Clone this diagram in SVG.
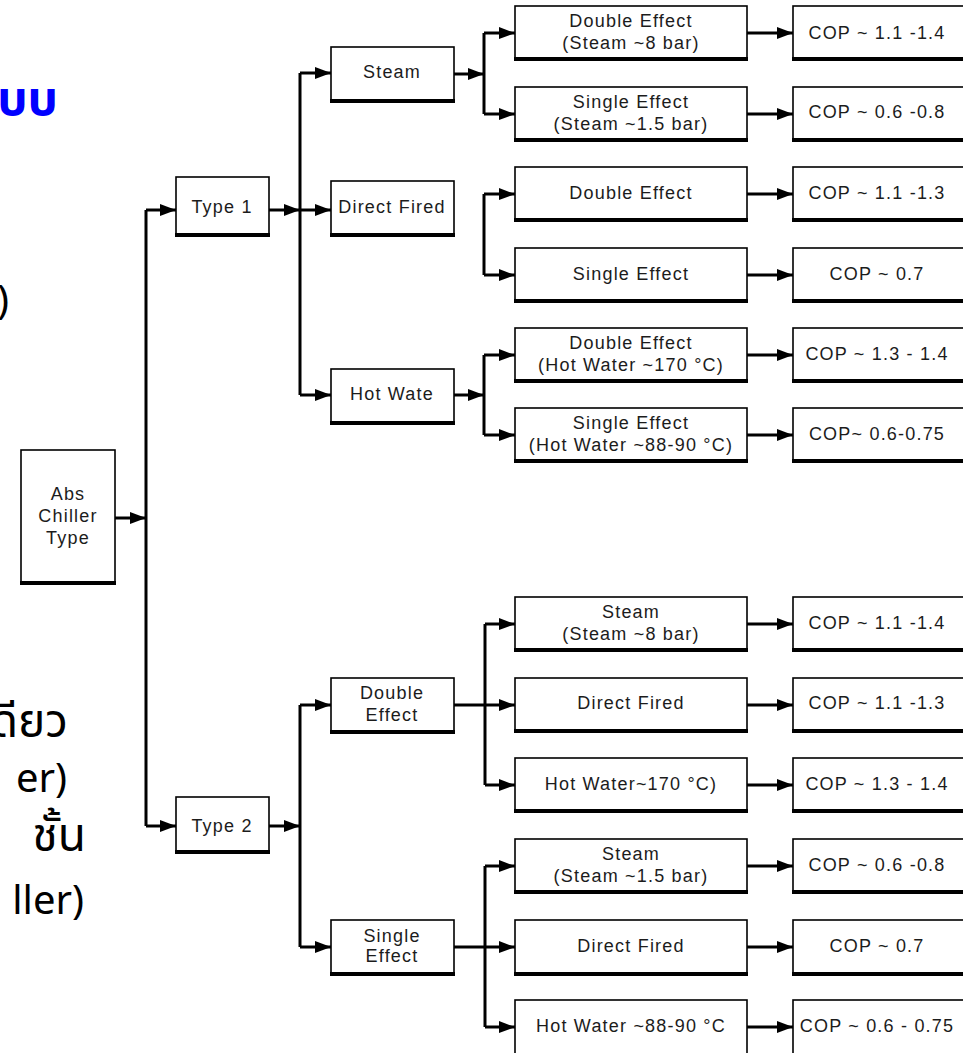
<svg xmlns="http://www.w3.org/2000/svg" width="963" height="1053" viewBox="0 0 963 1053">
  <defs>
    <marker id="arrow" markerUnits="userSpaceOnUse" markerWidth="16" markerHeight="13" refX="16" refY="6.5" orient="auto">
      <path d="M0,0.5 L16,6.5 L0,12.5 z" fill="#000"/>
    </marker>
    <style>
      .box { fill: #fff; stroke: #000; stroke-width: 1.6; }
      .base { stroke: #000; stroke-width: 4; }
      .lbl { font-family: "Liberation Sans", Arial, sans-serif; font-size: 18px; letter-spacing: 1.2px; fill: #1c1c1c; text-anchor: middle; }
      .wire { fill: none; stroke: #000; stroke-width: 3; }
      .arr { fill: none; stroke: #000; stroke-width: 3; marker-end: url(#arrow); }
      .side { font-family: "Noto Sans Thai", "Noto Sans", "DejaVu Sans", sans-serif; font-size: 40px; fill: #000; text-anchor: end; }
      .thai { font-size: 46px; }
      .head { font-family: "Noto Sans Thai", "Noto Sans", "DejaVu Sans", sans-serif; font-size: 48px; font-weight: bold; fill: #0000ff; text-anchor: end; }
    </style>
  </defs>

  <rect width="963" height="1053" fill="#fff"/>

  <!-- text running off the left edge -->
  <g id="side-text">
    <text class="head" x="58" y="115">บบ</text>
    <text class="side" x="9" y="314" font-size="48">)</text>
    <text class="side thai" x="68" y="737">ดียว</text>
    <text class="side" x="67" y="792">er)</text>
    <text class="side thai" x="86" y="851">ชั้น</text>
    <text class="side" x="84" y="914">ller)</text>
  </g>

  <!-- connectors -->
  <g id="connectors">
    <path class="arr" d="M115,518 H146"/>
    <path class="wire" d="M146,210 V826"/>
    <path class="arr" d="M146,210 H176"/>
    <path class="arr" d="M146,826 H176"/>

    <path class="arr" d="M269,210 H300"/>
    <path class="wire" d="M300,73 V395"/>
    <path class="arr" d="M300,73 H331"/>
    <path class="arr" d="M300,210 H331"/>
    <path class="arr" d="M300,395 H331"/>

    <path class="arr" d="M454,74 H484"/>
    <path class="wire" d="M484,33 V114"/>
    <path class="arr" d="M484,33 H515"/>
    <path class="arr" d="M484,114 H515"/>

    <path class="wire" d="M484,194 V275"/>
    <path class="arr" d="M484,194 H515"/>
    <path class="arr" d="M484,275 H515"/>

    <path class="arr" d="M454,395 H484"/>
    <path class="wire" d="M484,355 V435"/>
    <path class="arr" d="M484,355 H515"/>
    <path class="arr" d="M484,435 H515"/>

    <path class="arr" d="M269,826 H300"/>
    <path class="wire" d="M300,705 V947"/>
    <path class="arr" d="M300,705 H331"/>
    <path class="arr" d="M300,947 H331"/>

    <path class="wire" d="M454,705 H485"/>
    <path class="wire" d="M485,624 V785"/>
    <path class="arr" d="M485,624 H515"/>
    <path class="arr" d="M485,705 H515"/>
    <path class="arr" d="M485,785 H515"/>

    <path class="arr" d="M454,947 H515"/>
    <path class="wire" d="M485,866 V1027"/>
    <path class="arr" d="M485,866 H515"/>
    <path class="arr" d="M485,1027 H515"/>

    <path class="arr" d="M747,33 H793"/>
    <path class="arr" d="M747,114 H793"/>
    <path class="arr" d="M747,194 H793"/>
    <path class="arr" d="M747,275 H793"/>
    <path class="arr" d="M747,355 H793"/>
    <path class="arr" d="M747,435 H793"/>
    <path class="arr" d="M747,624 H793"/>
    <path class="arr" d="M747,705 H793"/>
    <path class="arr" d="M747,785 H793"/>
    <path class="arr" d="M747,866 H793"/>
    <path class="arr" d="M747,947 H793"/>
    <path class="arr" d="M747,1027 H793"/>
  </g>

  <!-- root -->
  <g id="abs-chiller">
    <rect class="box" x="21" y="450" width="94" height="133"/>
    <line class="base" x1="20" y1="583" x2="116" y2="583"/>
    <text class="lbl" x="68" y="499.5">Abs</text>
    <text class="lbl" x="68" y="521.5">Chiller</text>
    <text class="lbl" x="68" y="543.5">Type</text>
  </g>

  <!-- types -->
  <g id="type1">
    <rect class="box" x="176" y="177" width="93" height="58"/>
    <line class="base" x1="175" y1="235" x2="270" y2="235"/>
    <text class="lbl" x="222" y="212.5">Type 1</text>
  </g>
  <g id="type2">
    <rect class="box" x="176" y="797" width="93" height="55"/>
    <line class="base" x1="175" y1="852" x2="270" y2="852"/>
    <text class="lbl" x="222" y="831.5">Type 2</text>
  </g>

  <!-- second level -->
  <g id="t1-steam">
    <rect class="box" x="331" y="47" width="123" height="54"/>
    <line class="base" x1="330" y1="101" x2="455" y2="101"/>
    <text class="lbl" x="392" y="78">Steam</text>
  </g>
  <g id="t1-direct-fired">
    <rect class="box" x="331" y="181" width="123" height="54"/>
    <line class="base" x1="330" y1="235" x2="455" y2="235"/>
    <text class="lbl" x="392" y="213">Direct Fired</text>
  </g>
  <g id="t1-hot-water">
    <rect class="box" x="331" y="369" width="123" height="54"/>
    <line class="base" x1="330" y1="423" x2="455" y2="423"/>
    <text class="lbl" x="392" y="400">Hot Wate</text>
  </g>
  <g id="t2-double">
    <rect class="box" x="331" y="678" width="123" height="54"/>
    <line class="base" x1="330" y1="732" x2="455" y2="732"/>
    <text class="lbl" x="392" y="698.5">Double</text>
    <text class="lbl" x="392" y="720.5">Effect</text>
  </g>
  <g id="t2-single">
    <rect class="box" x="331" y="920" width="123" height="54"/>
    <line class="base" x1="330" y1="974" x2="455" y2="974"/>
    <text class="lbl" x="392" y="941.5">Single</text>
    <text class="lbl" x="392" y="961.5">Effect</text>
  </g>

  <!-- third level -->
  <g id="r1">
    <rect class="box" x="515" y="6" width="232" height="53"/>
    <line class="base" x1="514" y1="59" x2="748" y2="59"/>
    <text class="lbl" x="631" y="26.5">Double Effect</text>
    <text class="lbl" x="631" y="48.5">(Steam ~8 bar)</text>
  </g>
  <g id="r2">
    <rect class="box" x="515" y="87" width="232" height="53"/>
    <line class="base" x1="514" y1="140" x2="748" y2="140"/>
    <text class="lbl" x="631" y="107.5">Single Effect</text>
    <text class="lbl" x="631" y="129.5">(Steam ~1.5 bar)</text>
  </g>
  <g id="r3">
    <rect class="box" x="515" y="167" width="232" height="53"/>
    <line class="base" x1="514" y1="220" x2="748" y2="220"/>
    <text class="lbl" x="631" y="199">Double Effect</text>
  </g>
  <g id="r4">
    <rect class="box" x="515" y="248" width="232" height="53"/>
    <line class="base" x1="514" y1="301" x2="748" y2="301"/>
    <text class="lbl" x="631" y="280">Single Effect</text>
  </g>
  <g id="r5">
    <rect class="box" x="515" y="328" width="232" height="53"/>
    <line class="base" x1="514" y1="381" x2="748" y2="381"/>
    <text class="lbl" x="631" y="348.5">Double Effect</text>
    <text class="lbl" x="631" y="370.5">(Hot Water ~170 °C)</text>
  </g>
  <g id="r6">
    <rect class="box" x="515" y="408" width="232" height="53"/>
    <line class="base" x1="514" y1="461" x2="748" y2="461"/>
    <text class="lbl" x="631" y="428.5">Single Effect</text>
    <text class="lbl" x="631" y="450.5">(Hot Water ~88-90 °C)</text>
  </g>
  <g id="r7">
    <rect class="box" x="515" y="597" width="232" height="53"/>
    <line class="base" x1="514" y1="650" x2="748" y2="650"/>
    <text class="lbl" x="631" y="617.5">Steam</text>
    <text class="lbl" x="631" y="639.5">(Steam ~8 bar)</text>
  </g>
  <g id="r8">
    <rect class="box" x="515" y="678" width="232" height="53"/>
    <line class="base" x1="514" y1="731" x2="748" y2="731"/>
    <text class="lbl" x="631" y="709">Direct Fired</text>
  </g>
  <g id="r9">
    <rect class="box" x="515" y="758" width="232" height="53"/>
    <line class="base" x1="514" y1="811" x2="748" y2="811"/>
    <text class="lbl" x="631" y="790">Hot Water~170 °C)</text>
  </g>
  <g id="r10">
    <rect class="box" x="515" y="839" width="232" height="53"/>
    <line class="base" x1="514" y1="892" x2="748" y2="892"/>
    <text class="lbl" x="631" y="859.5">Steam</text>
    <text class="lbl" x="631" y="881.5">(Steam ~1.5 bar)</text>
  </g>
  <g id="r11">
    <rect class="box" x="515" y="920" width="232" height="54"/>
    <line class="base" x1="514" y1="974" x2="748" y2="974"/>
    <text class="lbl" x="631" y="952">Direct Fired</text>
  </g>
  <g id="r12">
    <rect class="box" x="515" y="1000" width="232" height="60"/>
    <text class="lbl" x="631" y="1032">Hot Water ~88-90 °C</text>
  </g>

  <!-- COP results -->
  <g id="cop1">
    <rect class="box" x="793" y="6" width="200" height="53"/>
    <line class="base" x1="792" y1="59" x2="970" y2="59"/>
    <text class="lbl" x="877" y="39">COP ~ 1.1 -1.4</text>
  </g>
  <g id="cop2">
    <rect class="box" x="793" y="87" width="200" height="53"/>
    <line class="base" x1="792" y1="140" x2="970" y2="140"/>
    <text class="lbl" x="877" y="118">COP ~ 0.6 -0.8</text>
  </g>
  <g id="cop3">
    <rect class="box" x="793" y="167" width="200" height="53"/>
    <line class="base" x1="792" y1="220" x2="970" y2="220"/>
    <text class="lbl" x="877" y="199">COP ~ 1.1 -1.3</text>
  </g>
  <g id="cop4">
    <rect class="box" x="793" y="248" width="200" height="53"/>
    <line class="base" x1="792" y1="301" x2="970" y2="301"/>
    <text class="lbl" x="877" y="280">COP ~ 0.7</text>
  </g>
  <g id="cop5">
    <rect class="box" x="793" y="328" width="200" height="53"/>
    <line class="base" x1="792" y1="381" x2="970" y2="381"/>
    <text class="lbl" x="877" y="360">COP ~ 1.3 - 1.4</text>
  </g>
  <g id="cop6">
    <rect class="box" x="793" y="408" width="200" height="53"/>
    <line class="base" x1="792" y1="461" x2="970" y2="461"/>
    <text class="lbl" x="877" y="440">COP~ 0.6-0.75</text>
  </g>
  <g id="cop7">
    <rect class="box" x="793" y="597" width="200" height="53"/>
    <line class="base" x1="792" y1="650" x2="970" y2="650"/>
    <text class="lbl" x="877" y="629">COP ~ 1.1 -1.4</text>
  </g>
  <g id="cop8">
    <rect class="box" x="793" y="678" width="200" height="53"/>
    <line class="base" x1="792" y1="731" x2="970" y2="731"/>
    <text class="lbl" x="877" y="709">COP ~ 1.1 -1.3</text>
  </g>
  <g id="cop9">
    <rect class="box" x="793" y="758" width="200" height="53"/>
    <line class="base" x1="792" y1="811" x2="970" y2="811"/>
    <text class="lbl" x="877" y="790">COP ~ 1.3 - 1.4</text>
  </g>
  <g id="cop10">
    <rect class="box" x="793" y="839" width="200" height="53"/>
    <line class="base" x1="792" y1="892" x2="970" y2="892"/>
    <text class="lbl" x="877" y="871">COP ~ 0.6 -0.8</text>
  </g>
  <g id="cop11">
    <rect class="box" x="793" y="920" width="200" height="54"/>
    <line class="base" x1="792" y1="974" x2="970" y2="974"/>
    <text class="lbl" x="877" y="952">COP ~ 0.7</text>
  </g>
  <g id="cop12">
    <rect class="box" x="793" y="1000" width="200" height="60"/>
    <text class="lbl" x="877" y="1032">COP ~ 0.6 - 0.75</text>
  </g>
</svg>
